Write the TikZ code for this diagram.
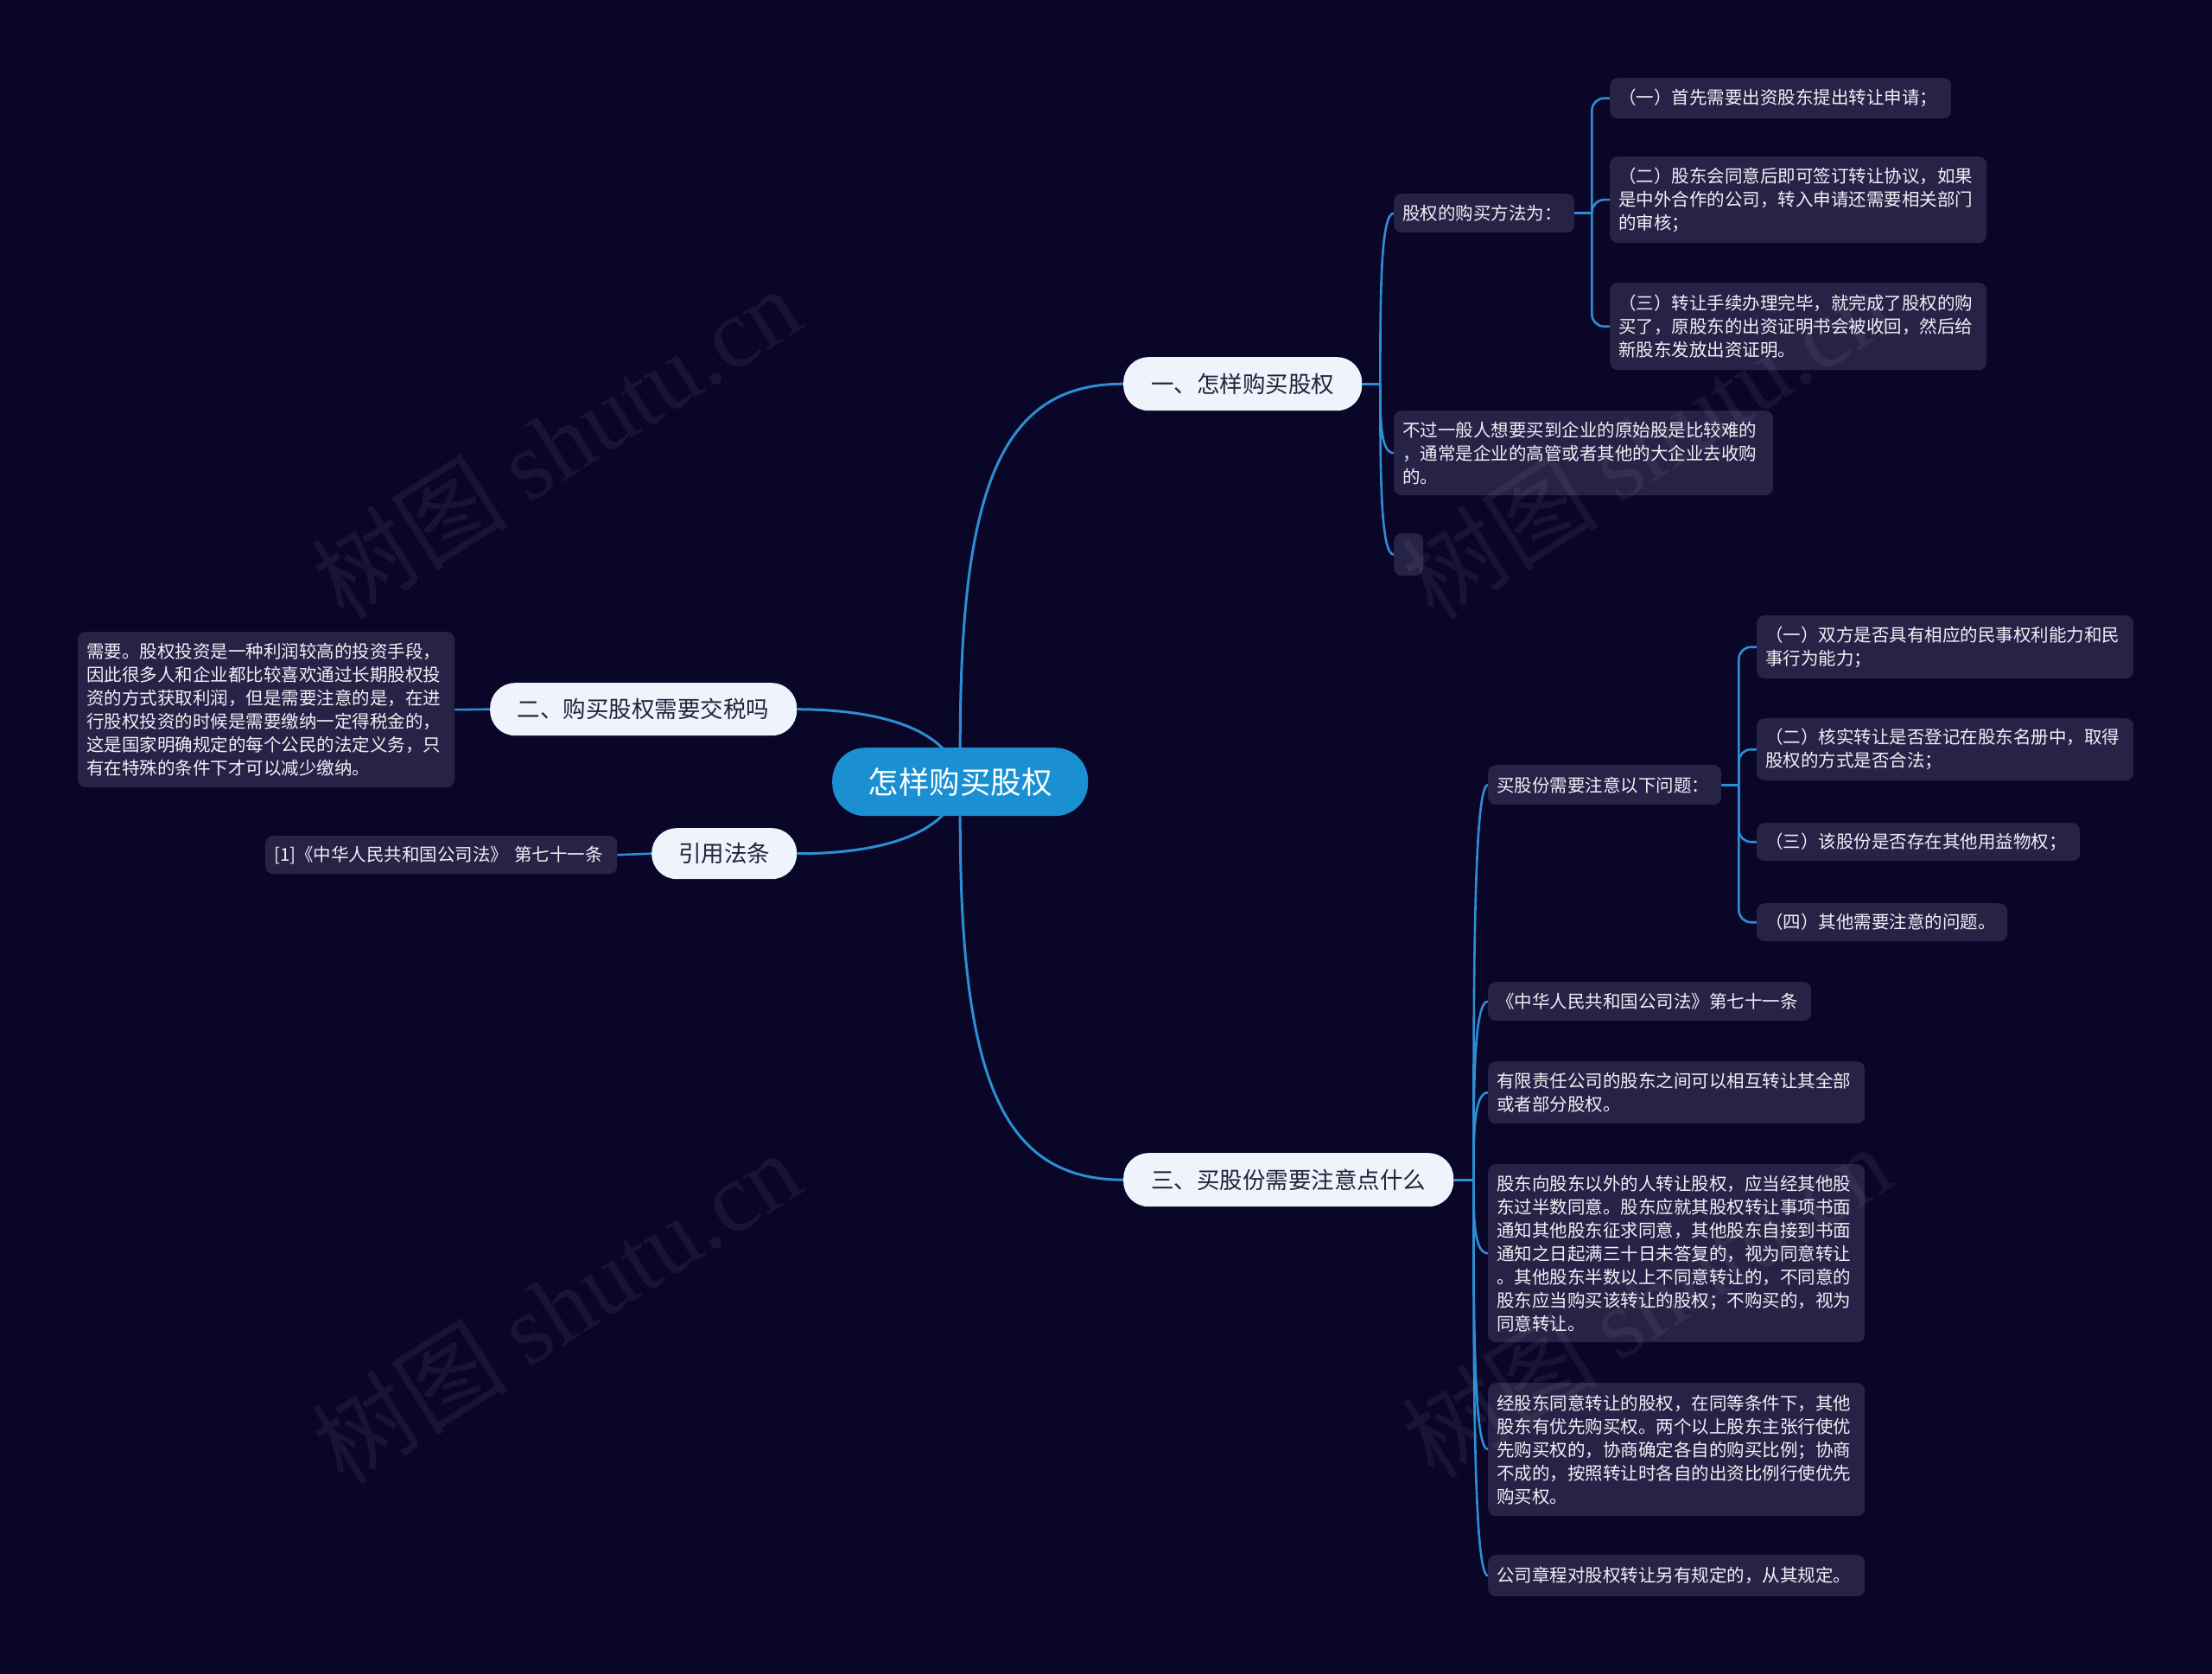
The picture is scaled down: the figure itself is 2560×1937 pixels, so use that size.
\documentclass[tikz,border=0pt]{standalone}
\usepackage{fontspec}
\newfontfamily\cjk{Noto Sans CJK SC}
\newfontfamily\wmserif{Liberation Serif}
\usetikzlibrary{calc}
\pgfdeclarelayer{bglayer}
\pgfdeclarelayer{edgelayer}
\pgfsetlayers{bglayer,edgelayer,main}
\definecolor{bgc}{HTML}{0A0628}
\definecolor{leafc}{HTML}{262347}
\definecolor{leaftext}{HTML}{F0F0F6}
\definecolor{linec}{HTML}{2C8FD6}
\definecolor{centc}{HTML}{1A90D2}
\definecolor{brfill}{HTML}{EEF3FC}
\definecolor{brtext}{HTML}{22223A}
\tikzset{
  leaf/.style={fill=leafc, rounded corners=9pt, text=leaftext, font=\cjk\fontsize{20.5}{27}\selectfont,
    align=left, inner xsep=10pt, inner ysep=0pt, anchor=north west},
  branch/.style={fill=brfill, text=brtext, rounded corners=29pt, font=\cjk\fontsize{26.5}{30}\selectfont,
    inner sep=0pt, anchor=north west},
  central/.style={fill=centc, text=white, rounded corners=38pt, font=\cjk\fontsize{35.5}{40}\selectfont,
    inner sep=0pt, anchor=north west, minimum width=296pt, minimum height=79pt},
  mainconn/.style={draw=linec, line width=3pt},
  subconn/.style={draw=linec, line width=2.6pt},
  wm/.style={text=white, text opacity=0.06, font=\cjk\fontsize{114}{114}\selectfont, rotate=32.6, inner sep=0pt}
}
\begin{document}
\begin{tikzpicture}[x=1pt,y=-1pt]
\begin{pgfonlayer}{bglayer}
\fill[bgc] (0,0) rectangle (2560,1937);
\end{pgfonlayer}
\useasboundingbox (0,0) rectangle (2560,1937);

% central and main branches
\node[central] (c) at (963,865) {怎样购买股权};
\node[branch, minimum width=276pt, minimum height=62pt] (b1) at (1300,413) {一、怎样购买股权};
\node[branch, minimum width=382pt, minimum height=62pt] (b3) at (1300,1334) {三、买股份需要注意点什么};
\node[branch, minimum width=355pt, minimum height=61pt] (b2) at (567,790) {二、购买股权需要交税吗};
\node[branch, minimum width=168pt, minimum height=59pt] (b4) at (754,958) {引用法条};

% branch one
\node[leaf, text width=189pt, minimum height=45pt] (m1) at (1613,224) {股权的购买方法为：};
\node[leaf, text width=375pt, minimum height=47pt] (m1a) at (1863,90) {（一）首先需要出资股东提出转让申请；};
\node[leaf, text width=416pt, minimum height=100pt] (m1b) at (1863,181) {（二）股东会同意后即可签订转让协议，如果\\是中外合作的公司，转入申请还需要相关部门\\的审核；};
\node[leaf, text width=416pt, minimum height=101pt] (m1c) at (1863,327) {（三）转让手续办理完毕，就完成了股权的购\\买了，原股东的出资证明书会被收回，然后给\\新股东发放出资证明。};
\node[leaf, text width=419pt, minimum height=98pt] (m2) at (1613,475) {不过一般人想要买到企业的原始股是比较难的\\，通常是企业的高管或者其他的大企业去收购\\的。};
\node[leaf, text width=14pt, minimum height=49pt] (m3) at (1613,617) {};

% branch three
\node[leaf, text width=250pt, minimum height=46pt] (n1) at (1722,885) {买股份需要注意以下问题：};
\node[leaf, text width=416pt, minimum height=73pt] (n1a) at (2033,712) {（一）双方是否具有相应的民事权利能力和民\\事行为能力；};
\node[leaf, text width=416pt, minimum height=72pt] (n1b) at (2033,831) {（二）核实转让是否登记在股东名册中，取得\\股权的方式是否合法；};
\node[leaf, text width=354pt, minimum height=44pt] (n1c) at (2033,952) {（三）该股份是否存在其他用益物权；};
\node[leaf, text width=270pt, minimum height=44pt] (n1d) at (2033,1045) {（四）其他需要注意的问题。};
\node[leaf, text width=354pt, minimum height=45pt] (n2) at (1722,1136) {《中华人民共和国公司法》第七十一条};
\node[leaf, text width=416pt, minimum height=72pt] (n3) at (1722,1228) {有限责任公司的股东之间可以相互转让其全部\\或者部分股权。};
\node[leaf, text width=416pt, minimum height=206pt] (n4) at (1722,1347) {股东向股东以外的人转让股权，应当经其他股\\东过半数同意。股东应就其股权转让事项书面\\通知其他股东征求同意，其他股东自接到书面\\通知之日起满三十日未答复的，视为同意转让\\。其他股东半数以上不同意转让的，不同意的\\股东应当购买该转让的股权；不购买的，视为\\同意转让。};
\node[leaf, text width=416pt, minimum height=154pt] (n5) at (1722,1600) {经股东同意转让的股权，在同等条件下，其他\\股东有优先购买权。两个以上股东主张行使优\\先购买权的，协商确定各自的购买比例；协商\\不成的，按照转让时各自的出资比例行使优先\\购买权。};
\node[leaf, text width=416pt, minimum height=48pt] (n6) at (1722,1799) {公司章程对股权转让另有规定的，从其规定。};

% left side
\node[leaf, text width=416pt, minimum height=180pt] (l1) at (90,731) {需要。股权投资是一种利润较高的投资手段，\\因此很多人和企业都比较喜欢通过长期股权投\\资的方式获取利润，但是需要注意的是，在进\\行股权投资的时候是需要缴纳一定得税金的，\\这是国家明确规定的每个公民的法定义务，只\\有在特殊的条件下才可以减少缴纳。};
\node[leaf, text width=387pt, minimum height=44pt] (l2) at (307,967) {[1]《中华人民共和国公司法》~第七十一条};

% connectors
\begin{pgfonlayer}{edgelayer}
\draw[mainconn] (c.north) .. controls (1111,560) and (1160,444) .. (b1.west);
\draw[mainconn] (c.south) .. controls (1111,1250) and (1160,1365) .. (b3.west);
\draw[mainconn] (c.center) .. controls (1100,840) and (1010,821) .. (b2.east);
\draw[mainconn] (c.center) .. controls (1100,969) and (1010,988) .. (b4.east);
\draw[subconn] (b2.west) -- (l1.east);
\draw[subconn] (b4.west) -- (l2.east);

\coordinate (s1) at ($(b1.east)+(21,0)$);
\draw[subconn] (b1.east) -- (s1);
\foreach \ch in {m1,m2,m3}{
  \draw[subconn] (s1) .. controls ($(s1)!0.5!(s1|-\ch.west)$) and (s1|-\ch.west) .. (\ch.west);
}
\coordinate (s3) at ($(b3.east)+(23,0)$);
\draw[subconn] (b3.east) -- (s3);
\foreach \ch in {n1,n2,n3,n4,n5,n6}{
  \draw[subconn] (s3) .. controls ($(s3)!0.5!(s3|-\ch.west)$) and (s3|-\ch.west) .. (\ch.west);
}
\coordinate (t1) at ($(m1.east)+(20,0)$);
\draw[subconn] (m1.east) -- (t1);
\foreach \ch in {m1a,m1b,m1c}{
  \draw[subconn, rounded corners=14pt] (t1) |- (\ch.west);
}
\coordinate (t2) at ($(n1.east)+(20,0)$);
\draw[subconn] (n1.east) -- (t2);
\foreach \ch in {n1a,n1b,n1c,n1d}{
  \draw[subconn, rounded corners=14pt] (t2) |- (\ch.west);
}
\end{pgfonlayer}

% watermarks
\node[wm] (w1) at (643,512) {树图 {\wmserif shutu.cn}};
\node[wm] (w2) at (1905,512) {树图 {\wmserif shutu.cn}};
\node[wm] (w3) at (643,1512) {树图 {\wmserif shutu.cn}};
\node[wm] (w4) at (1905,1505) {树图 {\wmserif shutu.cn}};
\end{tikzpicture}
\end{document}
